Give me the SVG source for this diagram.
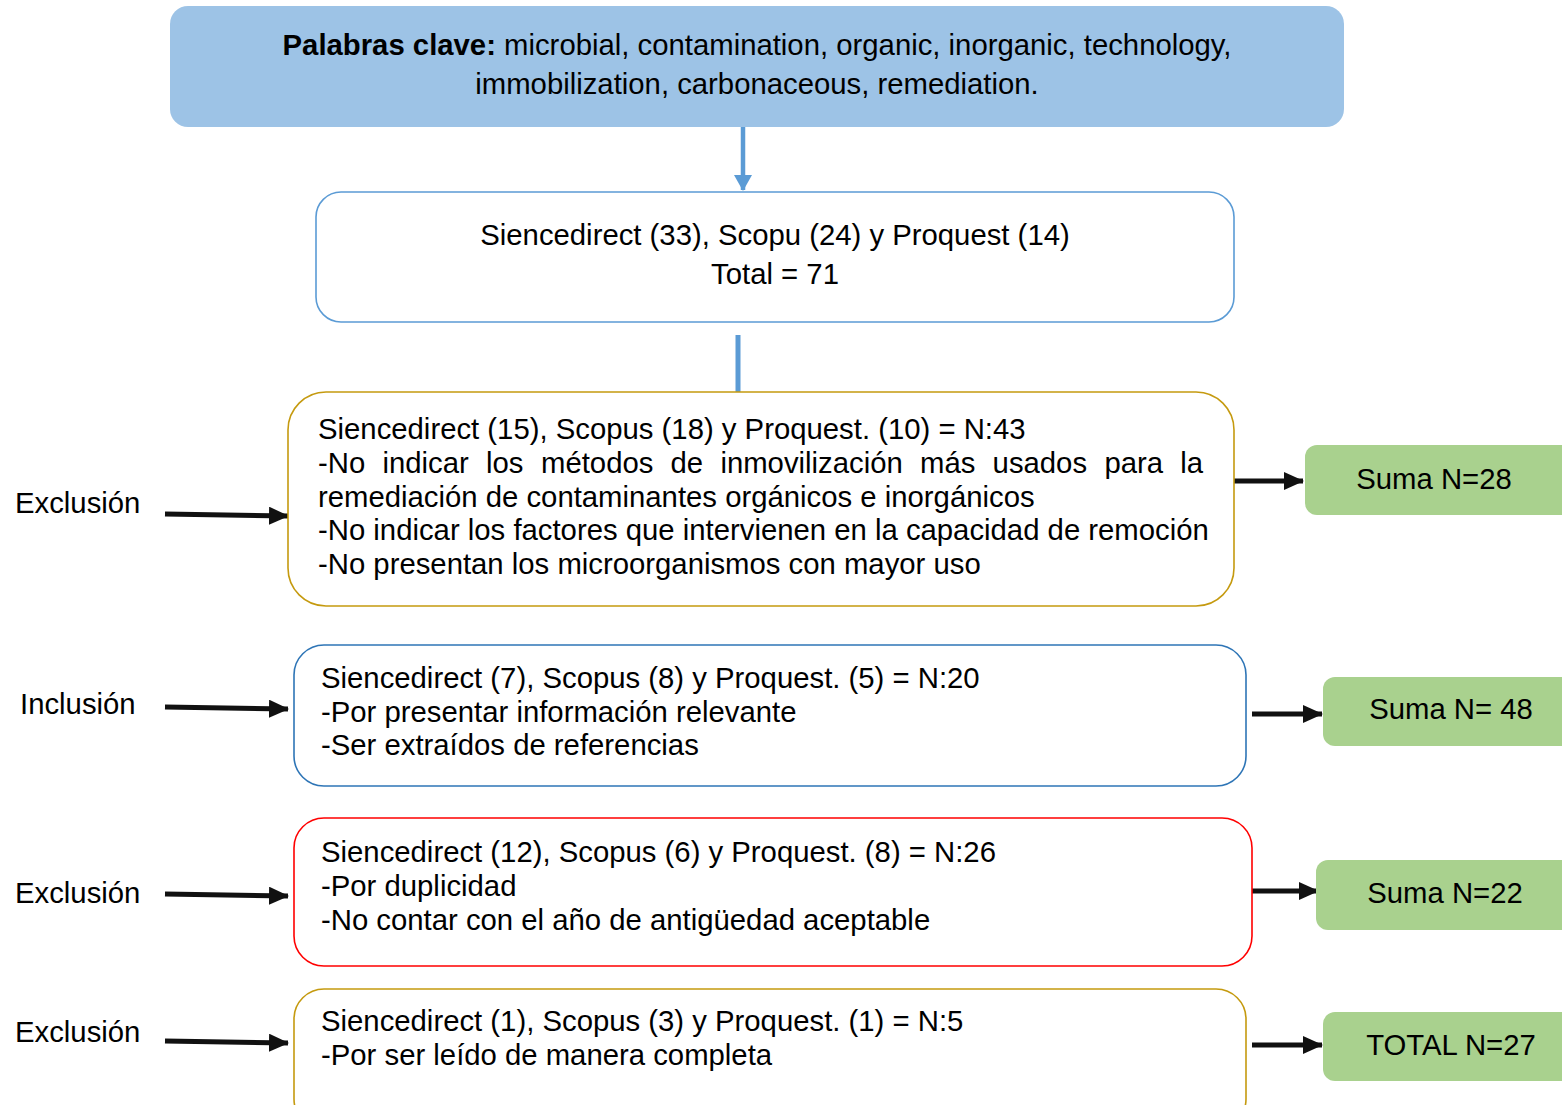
<svg xmlns="http://www.w3.org/2000/svg" width="1562" height="1105" viewBox="0 0 1562 1105">
<style>
text{font-family:"Liberation Sans",Arial,sans-serif;font-size:29.3px;fill:#000}
.c{text-anchor:middle}
.box{fill:#fff;stroke-width:1.6}
.green{fill:#a9d18e}
.blk{stroke:#111;stroke-width:5;fill:none}
</style>
<defs>
<marker id="ah" markerUnits="userSpaceOnUse" markerWidth="20" markerHeight="18" refX="19" refY="9" orient="auto">
<path d="M0,0 L20,9 L0,18 Z" fill="#111"/>
</marker>
<marker id="bh" markerUnits="userSpaceOnUse" markerWidth="16" markerHeight="18" refX="15" refY="9" orient="auto">
<path d="M0,0 L16,9 L0,18 Z" fill="#5b9bd5"/>
</marker>
</defs>
<rect width="1562" height="1105" fill="#fff"/>

<g id="connectors">
<line x1="743" y1="127" x2="743" y2="190" stroke="#5b9bd5" stroke-width="4.5" marker-end="url(#bh)"/>
<line x1="738" y1="335" x2="738" y2="392" stroke="#5b9bd5" stroke-width="5"/>
<line class="blk" x1="165" y1="514" x2="288" y2="516" marker-end="url(#ah)"/>
<line class="blk" x1="165" y1="707" x2="288" y2="709" marker-end="url(#ah)"/>
<line class="blk" x1="165" y1="894" x2="288" y2="896" marker-end="url(#ah)"/>
<line class="blk" x1="165" y1="1041" x2="288" y2="1043" marker-end="url(#ah)"/>
<line class="blk" x1="1234" y1="481" x2="1303" y2="481" marker-end="url(#ah)"/>
<line class="blk" x1="1252" y1="714" x2="1322" y2="714" marker-end="url(#ah)"/>
<line class="blk" x1="1250" y1="891" x2="1318" y2="891" marker-end="url(#ah)"/>
<line class="blk" x1="1252" y1="1045" x2="1322" y2="1045" marker-end="url(#ah)"/>
</g>

<g id="keywords">
<rect x="170" y="6" width="1174" height="121" rx="18" fill="#9dc3e6"/>
<text class="c" x="757" y="55"><tspan font-weight="bold">Palabras clave:</tspan> microbial, contamination, organic, inorganic, technology,</text>
<text class="c" x="757" y="94">immobilization, carbonaceous, remediation.</text>
</g>

<g id="search">
<rect class="box" x="316" y="192" width="918" height="130" rx="25" stroke="#5b9bd5" stroke-width="2.5"/>
<text class="c" x="775" y="245">Siencedirect (33), Scopu (24) y Proquest (14)</text>
<text class="c" x="775" y="284">Total = 71</text>
</g>

<g id="filter1">
<rect class="box" x="288" y="392" width="946" height="214" rx="38" stroke="#c59a0f"/>
<text x="318" y="439">Siencedirect (15), Scopus (18) y Proquest. (10) = N:43</text>
<text y="473"><tspan x="318">-No</tspan><tspan x="382.5">indicar</tspan><tspan x="486">los</tspan><tspan x="541">métodos</tspan><tspan x="670.5">de</tspan><tspan x="720.4">inmovilización</tspan><tspan x="920">más</tspan><tspan x="992.6">usados</tspan><tspan x="1104.4">para</tspan><tspan x="1180.3">la</tspan></text>
<text x="318" y="507">remediación de contaminantes orgánicos e inorgánicos</text>
<text x="318" y="540">-No indicar los factores que intervienen en la capacidad de remoción</text>
<text x="318" y="574">-No presentan los microorganismos con mayor uso</text>
</g>

<g id="filter2">
<rect class="box" x="294" y="645" width="952" height="141" rx="30" stroke="#2e75b6"/>
<text x="321" y="688">Siencedirect (7), Scopus (8) y Proquest. (5) = N:20</text>
<text x="321" y="722">-Por presentar información relevante</text>
<text x="321" y="755">-Ser extraídos de referencias</text>
</g>

<g id="filter3">
<rect class="box" x="294" y="818" width="958" height="148" rx="30" stroke="#ff0000"/>
<text x="321" y="862">Siencedirect (12), Scopus (6) y Proquest. (8) = N:26</text>
<text x="321" y="896">-Por duplicidad</text>
<text x="321" y="930">-No contar con el año de antigüedad aceptable</text>
</g>

<g id="filter4">
<rect class="box" x="294" y="989" width="952" height="140" rx="30" stroke="#c59a0f"/>
<text x="321" y="1031">Siencedirect (1), Scopus (3) y Proquest. (1) = N:5</text>
<text x="321" y="1065">-Por ser leído de manera completa</text>
</g>

<g id="labels">
<text x="15" y="513">Exclusión</text>
<text x="20" y="714">Inclusión</text>
<text x="15" y="903">Exclusión</text>
<text x="15" y="1042">Exclusión</text>
</g>

<g id="sum1"><rect class="green" x="1305" y="445" width="280" height="70" rx="12"/><text class="c" x="1434" y="489">Suma N=28</text></g>
<g id="sum2"><rect class="green" x="1323" y="677" width="280" height="69" rx="12"/><text class="c" x="1451" y="719">Suma N= 48</text></g>
<g id="sum3"><rect class="green" x="1316" y="860" width="280" height="70" rx="12"/><text class="c" x="1445" y="903">Suma N=22</text></g>
<g id="total"><rect class="green" x="1323" y="1012" width="280" height="69" rx="12"/><text class="c" x="1451" y="1055">TOTAL N=27</text></g>
</svg>
